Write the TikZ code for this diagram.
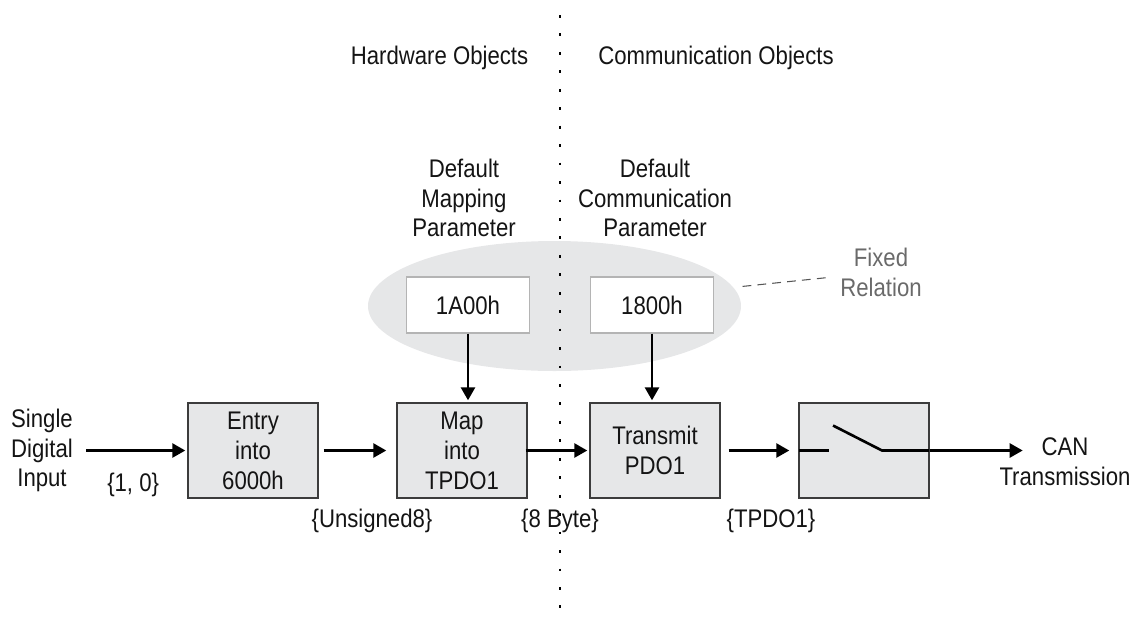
\documentclass[tikz,border=0pt]{standalone}
\usepackage{fontspec}
\setmainfont{Liberation Sans}[FakeStretch=0.87]
\usetikzlibrary{shapes.geometric, arrows.meta, positioning}
\definecolor{boxgray}{HTML}{E6E7E8}
\definecolor{edgegray}{HTML}{3C3C3C}
\definecolor{paredge}{HTML}{B4B4B4}
\definecolor{notegray}{HTML}{6A6A6A}

\begin{document}
\begin{tikzpicture}[node distance=4.18cm,
		every node/.style={font=\fontsize{14.5}{17}\selectfont,text=black!92,align=center},
		block/.style={rectangle,draw=edgegray,line width=0.8pt,fill=boxgray,minimum width=2.6cm,minimum height=1.9cm},
		param/.style={rectangle,draw=paredge,line width=0.6pt,fill=white,minimum width=2.45cm,minimum height=1.12cm},
		flow/.style={line width=1.5pt,-{Triangle[length=0.26cm,width=0.28cm]}}]
	\useasboundingbox (0,0) rectangle (22.94,-12.46);
	\node (entry) [block] at (5.06,-9.01) {Entry\\into\\6000h};
	\node (map) [block,right of=entry] {Map\\into\\TPDO1};
	\node (tx) [block,right of=map,xshift=-0.32cm] {Transmit\\PDO1};
	\node (sw) [block,right of=tx] {};
	\node (input) [left of=entry,xshift=-0.04cm] {Single\\Digital\\Input};
	\node (can) [right of=sw,xshift=-0.16cm,yshift=-0.23cm] {CAN\\Transmission};
	\coordinate [right=1.86cm of sw.east] (canin);
	\node (grp) [ellipse,fill=boxgray,minimum width=7.46cm,minimum height=2.6cm] at (11.09,-6.12) {};
	\draw [line width=1.6pt,dash pattern=on 1.6pt off 8.9pt] (11.2,-0.3) -- (11.2,-12.46);
	\node (hw) at (8.79,-1.16) {Hardware Objects};
	\node (co) at (14.32,-1.16) {Communication Objects};
	\node (mp) at (9.28,-3.96) {Default\\Mapping\\Parameter};
	\node (cp) at (13.1,-3.96) {Default\\Communication\\Parameter};
	\node (par1) [param,above of=map,xshift=0.12cm,yshift=-1.27cm] {1A00h};
	\node (par2) [param,above of=tx,xshift=-0.06cm,yshift=-1.27cm] {1800h};
	\node (fix) [text=notegray] at (17.62,-5.44) {Fixed\\Relation};
	\draw [flow,shorten <=0.14cm,shorten >=0.04cm] (input) -- node [midway,yshift=-0.68cm] {\{1, 0\}} (entry);
	\draw [flow,shorten <=0.1cm,shorten >=0.2cm] (entry) -- node [midway,xshift=0.29cm,yshift=-1.4cm] {\{Unsigned8\}} (map);
	\draw [flow,shorten <=-0.04cm,shorten >=0.04cm] (map) -- node [midway,xshift=0.03cm,yshift=-1.4cm] {\{8 Byte\}} (tx);
	\draw [flow,shorten <=0.16cm,shorten >=0.18cm] (tx) -- node [midway,xshift=0.23cm,yshift=-1.4cm] {\{TPDO1\}} (sw);
	\draw [flow] (sw.east) -- (canin);
	\draw [flow,shorten >=0.04cm] (par1) -- (par1 |- map.north);
	\draw [flow,shorten >=0.04cm] (par2) -- (par2 |- tx.north);
	\draw [notegray!80!black,line width=0.6pt,dash pattern=on 5pt off 3.5pt,shorten <=0.18cm,shorten >=0.12cm] (grp) -- (fix);
	\begin{scope}[shift={(sw.center)},line width=1.5pt]
		\draw (-1.3,0) -- (-0.7,0);
		\draw (-0.62,0.5) -- (0.36,0) -- (1.3,0);
	\end{scope}
\end{tikzpicture}
\end{document}
